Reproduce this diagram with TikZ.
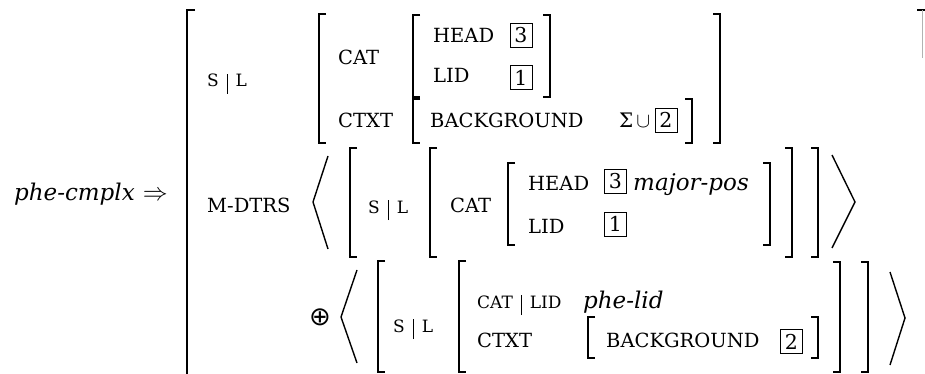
\documentclass[tikz,border=0pt]{standalone}
\usepackage{fontspec}
\setmainfont{DejaVu Serif}
\newfontfamily\symfont{DejaVu Sans}
\newcommand\pbar{\hspace{8pt}\rule[-7pt]{0.9pt}{20pt}\hspace{8pt}}
\newcommand\lbrk[3]{\draw[brk] (#1+7,#2) -- (#1,#2) -- (#1,#3) -- (#1+7,#3);}
\newcommand\rbrk[3]{\draw[brk] (#1-7,#2) -- (#1,#2) -- (#1,#3) -- (#1-7,#3);}
\tikzset{
  brk/.style={line width=1.6pt, line cap=butt, line join=miter},
  ang/.style={line width=1.4pt, line join=miter},
  feat/.style={anchor=base west, inner sep=0pt, font=\fontsize{19.5}{24}\selectfont},
  pfeat/.style={anchor=base west, inner sep=0pt, font=\fontsize{17}{20}\selectfont},
  typ/.style={anchor=base west, inner sep=0pt, font=\fontsize{23}{26}\selectfont\itshape},
  tagbox/.style={draw, line width=0.9pt, minimum width=22pt, minimum height=24pt, inner sep=0pt, anchor=center, font=\fontsize{20.5}{22}\selectfont},
}
\begin{document}
\begin{tikzpicture}[x=1pt,y=-1pt]
\useasboundingbox (0,0) rectangle (925,374);
% left part
\node[typ, anchor=base east] (ptype) at (135,200) {phe-cmplx};
\node[anchor=base east, inner sep=0pt, font=\fontsize{26}{28}\selectfont] (arr) at (168,200) {$\Rightarrow$};
% outer brackets
\draw[brk] (195,10) -- (187,10) -- (187,374);
\draw[brk] (917,10) -- (925,10);
\draw[line width=1pt, gray!60] (922,10) -- (922,58);
% ---- row 1 ----
\node[pfeat] (sl1) at (207,87) {S\pbar L};
\lbrk{319}{14}{143}
\rbrk{720}{14}{143}
\node[feat] (cat1) at (338,65) {CAT};
\node[feat] (ctxt1) at (338,128) {CTXT};
\lbrk{413}{15}{97}
\rbrk{550}{15}{97}
\node[feat] (head1) at (433,43) {HEAD};
\node[feat] (lid1) at (433,83) {LID};
\node[tagbox] (t31) at (521,35.5) {3};
\node[tagbox] (t11) at (521,77.5) {1};
\lbrk{413}{99}{143}
\rbrk{692}{99}{143}
\node[feat] (bg1) at (430,128) {BACKGROUND};
\node[anchor=base west, inner sep=0pt, font=\fontsize{20}{24}\selectfont] (sig) at (619,128) {Σ\hspace{3pt}$\cup$};
\node[tagbox] (t21) at (666,120) {2};
% ---- row 2 ----
\node[feat] (mdtrs) at (207,212) {M-DTRS};
\draw[ang] (328,156) -- (313,202) -- (328,249);
\lbrk{350}{148}{257}
\node[pfeat] (sl2) at (368,213) {S\pbar L};
\lbrk{430}{148}{257}
\node[feat] (cat2) at (450,212) {CAT};
\lbrk{508}{163}{245}
\node[feat] (head2) at (528,190) {HEAD};
\node[feat] (lid2) at (528,233) {LID};
\node[tagbox] (t32) at (615.5,181) {3};
\node[tagbox] (t12) at (615.5,224) {1};
\node[typ] (majpos) at (633,190) {major-pos};
\rbrk{770}{163}{245}
\rbrk{792}{148}{257}
\rbrk{818}{148}{257}
\draw[ang] (832,155) -- (855,202) -- (832,248);
% ---- row 3 ----
\node[inner sep=0pt, font=\fontsize{26}{28}\selectfont\symfont] (oplus) at (320,317) {⊕};
\draw[ang] (357,270) -- (341,317) -- (357,363);
\lbrk{378}{261}{372}
\node[pfeat] (sl3) at (393,332) {S\pbar L};
\lbrk{459}{261}{372}
\node[pfeat] (catlid) at (477,308) {CAT\pbar LID};
\node[typ] (phelid) at (583,308) {phe-lid};
\node[feat] (ctxt3) at (477,347) {CTXT};
\lbrk{588}{317}{358}
\node[feat] (bg3) at (606,347) {BACKGROUND};
\node[tagbox] (t23) at (791.5,341.5) {2};
\rbrk{818}{317}{358}
\rbrk{840}{262}{372}
\rbrk{868}{262}{372}
\draw[ang] (890,272) -- (905,318) -- (890,365);
\end{tikzpicture}
\end{document}
